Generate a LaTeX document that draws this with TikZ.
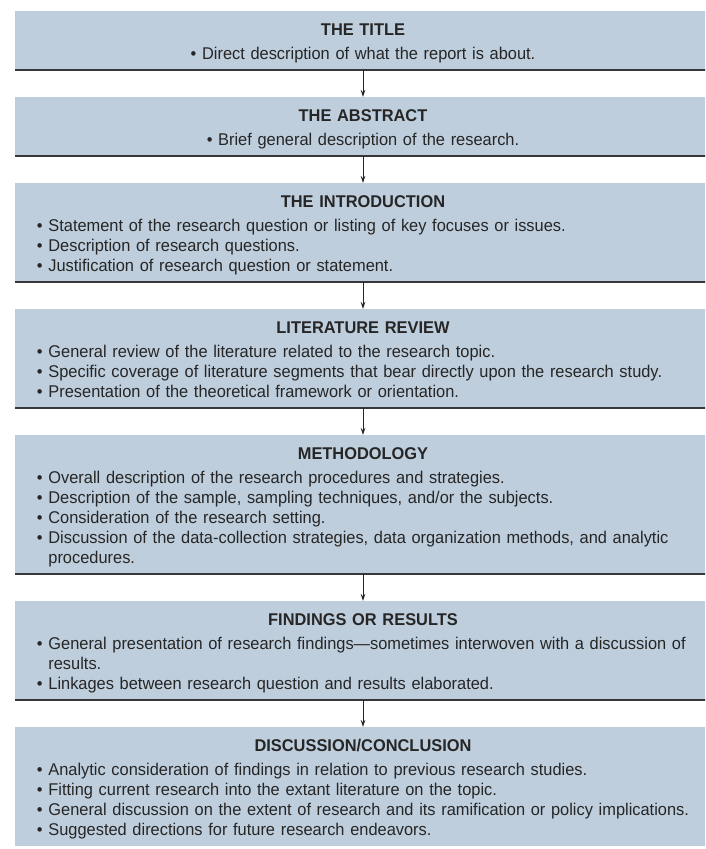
\documentclass[tikz,border=0pt]{standalone}
\usepackage{fontspec}
\setmainfont{Liberation Sans}[FakeStretch=0.965]
\usetikzlibrary{arrows.meta}

\definecolor{boxfill}{RGB}{191,206,221}
\definecolor{rulegray}{RGB}{55,55,58}

% one line of a box
\newcommand\hd[1]{{\noindent\centering\bfseries\rule{0pt}{19pt}#1\par}\vskip4pt}
\newcommand\cbul[1]{{\noindent\centering\strut\textbullet\ #1\par}}
\newcommand\bul[1]{\noindent\mbox{\strut\textbullet\ #1}\par}
\newcommand\cont[1]{\noindent\mbox{\phantom{\textbullet\ }\strut #1}\par}

\tikzset{
  box/.style={fill=boxfill, text width=652pt, inner xsep=22pt, inner ysep=5pt,
    anchor=north, text=black!85, font=\fontsize{17}{20}\selectfont},
  rule/.style={draw=rulegray, line width=2pt},
  flow/.style={draw=black!85, line width=0.9pt, -{Stealth[length=7pt,width=4.5pt]}}
}

\begin{document}
\begin{tikzpicture}[x=1pt,y=1pt]
\clip (0,0) rectangle (705,-849);
\fill[white] (0,0) rectangle (705,-849);

\node[box] (ttl) at (363,-11) {\hd{THE TITLE}\cbul{Direct description of what the report is about.}};
\node[box] (abs) at (363,-97) {\hd{THE ABSTRACT}\cbul{Brief general description of the research.}};
\node[box] (intro) at (363,-183) {\hd{THE INTRODUCTION}
  \bul{Statement of the research question or listing of key focuses or issues.}
  \bul{Description of research questions.}
  \bul{Justification of research question or statement.}};
\node[box] (lit) at (363,-309) {\hd{LITERATURE REVIEW}
  \bul{General review of the literature related to the research topic.}
  \bul{Specific coverage of literature segments that bear directly upon the research study.}
  \bul{Presentation of the theoretical framework or orientation.}};
\node[box] (meth) at (363,-435) {\hd{METHODOLOGY}
  \bul{Overall description of the research procedures and strategies.}
  \bul{Description of the sample, sampling techniques, and/or the subjects.}
  \bul{Consideration of the research setting.}
  \bul{Discussion of the data-collection strategies, data organization methods, and analytic}
  \cont{procedures.}};
\node[box] (find) at (363,-601) {\hd{FINDINGS OR RESULTS}
  \bul{General presentation of research findings---sometimes interwoven with a discussion of}
  \cont{results.}
  \bul{Linkages between research question and results elaborated.}};
\node[box] (disc) at (363,-727) {\hd{DISCUSSION/CONCLUSION}
  \bul{Analytic consideration of findings in relation to previous research studies.}
  \bul{Fitting current research into the extant literature on the topic.}
  \bul{General discussion on the extent of research and its ramification or policy implications.}
  \bul{Suggested directions for future research endeavors.}};

% dark rule under each box, then the arrow down
\foreach \a/\b in {ttl/abs,abs/intro,intro/lit,lit/meth,meth/find,find/disc}{
  \draw[rule] (\a.south west) -- (\a.south east);
  \draw[flow] (\a.south) -- (\b.north);
}

\end{tikzpicture}
\end{document}
